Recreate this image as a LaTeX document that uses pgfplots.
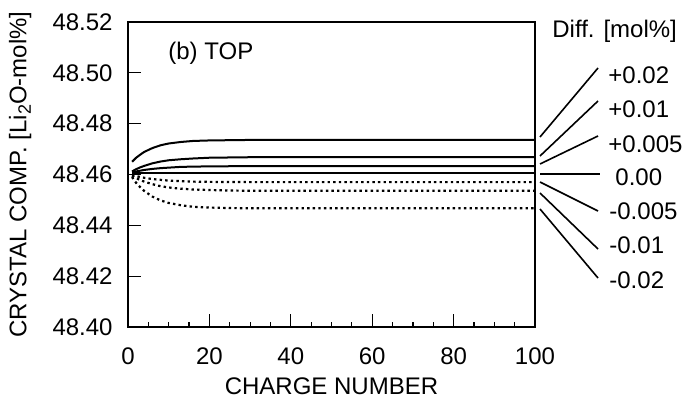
\documentclass[border=0pt]{standalone}
\usepackage{fontspec}
\setmainfont{Liberation Sans}
\usepackage{pgfplots}
\pgfplotsset{compat=1.18}
\begin{document}
\fontsize{12pt}{14pt}\selectfont
\begin{tikzpicture}
\path[use as bounding box] (-64pt,-37.5pt) rectangle (286pt,163.5pt);
\begin{axis}[
  scale only axis,
  width=203.5pt, height=152.5pt,
  xmin=0, xmax=100, ymin=48.40, ymax=48.52,
  xtick={0,20,...,100},
  ytick={48.40,48.42,...,48.52},
  minor x tick num=3,
  minor y tick num=3,
  tick align=inside,
  xtick pos=bottom, ytick pos=left,
  major tick length=6.5pt, minor tick length=2.5pt,
  every tick/.style={line width=0.6pt, black},
  axis line style={line width=1pt},
  /pgf/number format/assume math mode=true,
  yticklabel style={/pgf/number format/fixed, /pgf/number format/fixed zerofill, /pgf/number format/precision=2, xshift=-3.5pt},
  xticklabel style={yshift=-6pt},
  xlabel={CHARGE NUMBER},
  ylabel={CRYSTAL COMP. [Li\raisebox{-0.35ex}{\fontsize{9pt}{10pt}\selectfont 2}O-mol\%]},
  xlabel style={at={(axis description cs:0.5,-0.1934)}, anchor=center},
  ylabel style={at={(axis description cs:-0.265,0.5)}, anchor=center},
  clip=false,
]
% +0.02
\addplot[black, line width=1pt] coordinates {
  (1,48.4650) (2,48.4666) (3,48.4678) (4,48.4689) (6,48.4704) (8,48.4715)
  (10,48.4722) (13,48.4728) (16,48.4732) (20,48.4734) (25,48.4735) (30,48.4736) (100,48.4736)
};
% +0.01
\addplot[black, line width=1pt] coordinates {
  (1,48.4612) (2,48.4621) (3,48.4628) (4,48.4634) (6,48.4644) (8,48.4651)
  (10,48.4656) (13,48.4660) (16,48.4663) (20,48.4666) (25,48.4667) (30,48.4668) (100,48.4668)
};
% +0.005
\addplot[black, line width=1pt] coordinates {
  (1,48.4608) (2,48.4612) (3,48.4615) (4,48.4618) (6,48.4622) (8,48.4625)
  (10,48.4627) (13,48.4630) (16,48.4631) (20,48.4632) (30,48.4633) (100,48.4633)
};
% 0.00
\addplot[black, line width=1pt] coordinates {
  (1,48.4604) (100,48.4604)
};
% -0.005
\addplot[black, line width=1.1pt, dash pattern=on 1.2pt off 1.6pt] coordinates {
  (1,48.4598) (2,48.4594) (3,48.4590) (4,48.4587) (6,48.4582) (8,48.4579)
  (10,48.4576) (13,48.4574) (16,48.4572) (20,48.4571) (30,48.4570) (100,48.4570)
};
% -0.01
\addplot[black, line width=1.1pt, dash pattern=on 1.2pt off 1.6pt] coordinates {
  (1,48.4595) (2,48.4586) (3,48.4578) (4,48.4572) (6,48.4562) (8,48.4554)
  (10,48.4549) (13,48.4544) (16,48.4541) (20,48.4539) (25,48.4537) (30,48.4536) (100,48.4536)
};
% -0.02
\addplot[black, line width=1.1pt, dash pattern=on 1.2pt off 1.6pt] coordinates {
  (1,48.4590) (2,48.4567) (3,48.4550) (4,48.4535) (6,48.4513) (8,48.4498)
  (10,48.4488) (13,48.4479) (16,48.4473) (20,48.4470) (25,48.4468) (30,48.4467) (100,48.4467)
};
\end{axis}
% annotation
\node[anchor=west, inner sep=0pt] at (20pt,137pt) {(b) TOP};
\node[anchor=west, inner sep=0pt] at (212pt,147.75pt) {Diff. [mol\%]};
\begin{scope}[line width=0.8pt]
\draw (206pt,95pt) -- (235pt,129.5pt);
\draw (206pt,85.5pt) -- (235pt,113pt);
\draw (206pt,81.5pt) -- (235pt,95.5pt);
\draw (206pt,76.5pt) -- (236pt,76.5pt);
\draw (206pt,72.5pt) -- (235pt,58pt);
\draw (206pt,67pt) -- (235pt,39pt);
\draw (206pt,59pt) -- (235pt,24.5pt);
\end{scope}
\node[anchor=west, inner sep=0pt] at (240pt,126pt) {+0.02};
\node[anchor=west, inner sep=0pt] at (240pt,108.75pt) {+0.01};
\node[anchor=west, inner sep=0pt] at (240pt,91.25pt) {+0.005};
\node[anchor=west, inner sep=0pt] at (243.5pt,75pt) {0.00};
\node[anchor=west, inner sep=0pt] at (240.5pt,57.75pt) {-0.005};
\node[anchor=west, inner sep=0pt] at (240.5pt,40.75pt) {-0.01};
\node[anchor=west, inner sep=0pt] at (240.5pt,23.25pt) {-0.02};
\end{tikzpicture}
\end{document}
